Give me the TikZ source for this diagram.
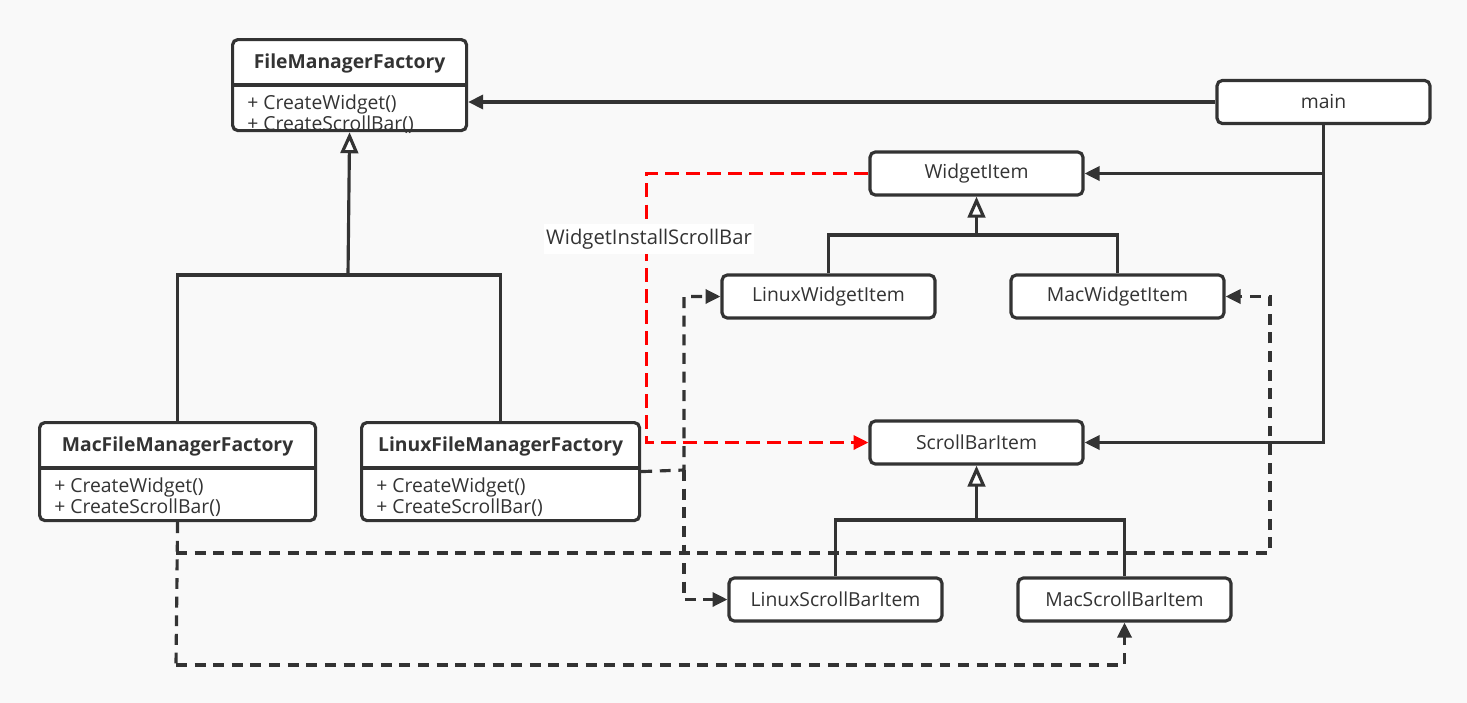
\documentclass[tikz,border=0pt]{standalone}
\usepackage{fontspec}
\setmainfont{Open Sans}
\usepackage{tikz}
\usetikzlibrary{calc}
\usetikzlibrary{arrows.meta}
\usetikzlibrary{positioning}
\definecolor{boxline}{HTML}{333333}
\definecolor{bgcol}{HTML}{F9F9F9}
\colorlet{depred}{red}
% class box: name, left, top, width, height, title, operations
\newcommand{\classbox}[7]{%
\node[ClassFrame, minimum width=#4*0.02cm, minimum height=#5*0.02cm, anchor=north west] (#1) at (#2,#3) {};
\draw[Link] ($(#1.north west)+(0,47)$) coordinate (#1-a) -- ($(#1.north east)+(0,47)$) coordinate (#1-b);
\node[ClassTitle] (#1-title) at ($(#1.north)+(0,25)$) {#6};
\node[ClassOps] (#1-ops) at ($(#1.north west)+(16,76)$) {#7};
}

\begin{document}
\begin{tikzpicture}[
x=0.02cm, y=-0.02cm,
ItemBox/.style={draw=boxline,fill=white,line width=1.8pt,rounded corners=3pt,minimum width=4.26cm,minimum height=0.86cm,inner sep=0pt,text=boxline,font=\fontsize{11}{13}\selectfont},
ClassFrame/.style={draw=boxline,fill=white,line width=1.8pt,rounded corners=3pt,inner sep=0pt},
ClassTitle/.style={text=boxline,font=\bfseries\fontsize{11}{13}\selectfont,inner sep=0pt},
ClassOps/.style={text=boxline,font=\fontsize{11}{11.8}\selectfont,align=left,inner sep=0pt,anchor=west},
Link/.style={draw=boxline,line width=1.8pt},
Assoc/.style={Link,-{Triangle[length=8.5pt,width=8pt]}},
Inherit/.style={Link,-{Triangle[open,fill=white,length=12pt,width=10pt]}},
Dep/.style={Link,dash pattern=on 6.2pt off 4.4pt,-{Triangle[length=8.5pt,width=8pt]}},
RedDep/.style={draw=depred,line width=1.8pt,dash pattern=on 8pt off 4pt,-{Triangle[length=8.5pt,width=8pt]}},
EdgeLabel/.style={fill=white,text=boxline,font=\fontsize{11.5}{13}\selectfont,inner xsep=1pt,inner ysep=3pt}
]
\fill[bgcol] (0,0) rectangle (1467,703);
\useasboundingbox (0,0) rectangle (1467,703);

% classes
\classbox{fmf}{231}{38}{234}{91}{FileManagerFactory}{+ CreateWidget()\\+ CreateScrollBar()}
\classbox{macF}{38}{421}{276}{98}{MacFileManagerFactory}{+ CreateWidget()\\+ CreateScrollBar()}
\classbox{linF}{360}{421}{278}{98}{LinuxFileManagerFactory}{+ CreateWidget()\\+ CreateScrollBar()}

% items
\node[ItemBox] (main) at (1323.5,102) {main};
\node[ItemBox] (widget) at (976.5,173.5) {WidgetItem};
\node[ItemBox] (linW) at (828.5,296.5) {LinuxWidgetItem};
\node[ItemBox] (macW) at (1117.5,296.5) {MacWidgetItem};
\node[ItemBox] (scroll) at (976.5,442.5) {ScrollBarItem};
\node[ItemBox] (linS) at (835.5,599.5) {LinuxScrollBarItem};
\node[ItemBox] (macS) at (1124.5,599.5) {MacScrollBarItem};

% main uses
\draw[Assoc] (main.west) -- (main.west -| fmf.east);
\draw[Assoc] (main.south) |- (widget.east);
\draw[Assoc] (main.south) |- (scroll.east);

% inheritance
\coordinate (fmfJoin) at (348,275);
\draw[Link] (macF.north) |- (fmfJoin) -| (linF.north);
\draw[Inherit] (fmfJoin) -- (fmf.south);

\coordinate (wJoin) at (976.5,235);
\draw[Link] (linW.north) |- (wJoin) -| (macW.north);
\draw[Inherit] (wJoin) -- (widget.south);

\coordinate (sJoin) at (976.5,520);
\draw[Link] (linS.north) |- (sJoin) -| (macS.north);
\draw[Inherit] (sJoin) -- (scroll.south);

% widget installs scroll bar
\draw[RedDep] (widget.west) -- ++(-222,0) |- (scroll.west);
\node[EdgeLabel] (install) at (649,239) {WidgetInstallScrollBar};

% factories create
\coordinate (linFork) at (684,470);
\draw[Dep] (linF.east) -- (linFork) |- (linW.west);
\draw[Dep] (linFork) |- (linS.west);

\coordinate (macFork) at (176,553);
\coordinate (macWJog) at (1270,296.5);
\coordinate (macSJog) at (176,665);
\draw[Link,dash pattern=on 6.2pt off 4.4pt] (macF.south) -- (macSJog);
\draw[Dep] (macFork) -| (macWJog) -- (macW.east);
\draw[Dep] (macSJog) -| (macS.south);

\end{tikzpicture}
\end{document}
